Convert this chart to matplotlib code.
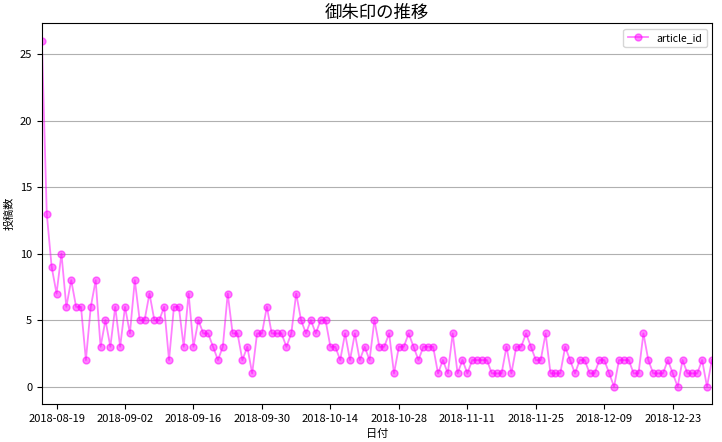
import numpy as np
import matplotlib
matplotlib.use('Agg')
import matplotlib.pyplot as plt
import matplotlib.dates as mdates
import pandas as pd

plt.rcParams['font.family'] = ['Noto Sans CJK JP', 'DejaVu Sans']

# Data ~~~~~~~~~~~~~~~~~~~~~~~~~~~~~~~~~~~~~~~~~~~~~~~~~~~~~~~~~~~~~~~~~~~~~~~~~~~~~
start_date = '2018-08-16'
end_date = '2018-12-31'
counts = [26, 13, 9, 7, 10, 6, 8, 6, 6, 2,
          6, 8, 3, 5, 3, 6, 3, 6, 4, 8,
          5, 5, 7, 5, 5, 6, 2, 6, 6, 3,
          7, 3, 5, 4, 4, 3, 2, 3, 7, 4,
          4, 2, 3, 1, 4, 4, 6, 4, 4, 4,
          3, 4, 7, 5, 4, 5, 4, 5, 5, 3,
          3, 2, 4, 2, 4, 2, 3, 2, 5, 3,
          3, 4, 1, 3, 3, 4, 3, 2, 3, 3,
          3, 1, 2, 1, 4, 1, 2, 1, 2, 2,
          2, 2, 1, 1, 1, 3, 1, 3, 3, 4,
          3, 2, 2, 4, 1, 1, 1, 3, 2, 1,
          2, 2, 1, 1, 2, 2, 1, 0, 2, 2,
          2, 1, 1, 4, 2, 1, 1, 1, 2, 1,
          0, 2, 1, 1, 1, 2, 0, 2]
tick_start = '2018-08-19'
y_ticks = [0, 5, 10, 15, 20, 25]

dates = pd.date_range(start_date, end_date, freq='D')
x_ticks = pd.date_range(tick_start, end_date, freq='14D')

# Plot ~~~~~~~~~~~~~~~~~~~~~~~~~~~~~~~~~~~~~~~~~~~~~~~~~~~~~~~~~~~~~~~~~~~~~~~~~~~~~
fig, ax = plt.subplots(figsize=(7.22, 4.42), dpi=100)
fig.subplots_adjust(left=0.058, right=0.986, bottom=0.086, top=0.947)

ax.plot(dates, counts, marker='o', color='magenta', alpha=0.5,
        markersize=5, linewidth=1.3, label='article_id')
ax.set_xlim(dates[0], dates[-1])
ax.set_xticks(x_ticks)
ax.xaxis.set_major_formatter(mdates.DateFormatter('%Y-%m-%d'))
ax.set_yticks(y_ticks)
ax.tick_params(labelsize=8)
ax.grid(axis='y', color='#b0b0b0', linewidth=0.8)
ax.set_title('御朱印の推移', fontsize=12.5, pad=4)
ax.set_xlabel('日付', fontsize=8)
ax.set_ylabel('投稿数', fontsize=8)
ax.legend(loc='upper right', fontsize=7.5)

plt.savefig('out.png')
